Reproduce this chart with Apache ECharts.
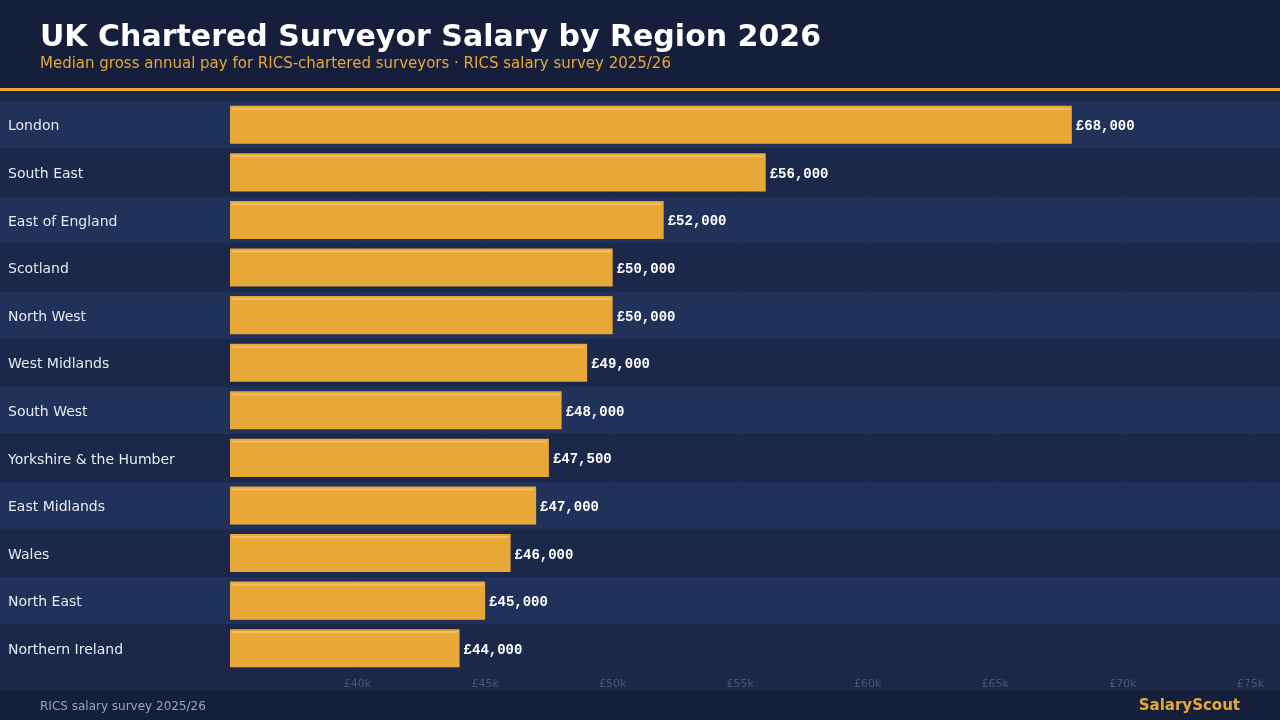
<!DOCTYPE html>
<html>
<head>
<meta charset="utf-8">
<script src="https://cdn.jsdelivr.net/npm/echarts@6/dist/echarts.min.js"></script>
<style>
html,body{margin:0;padding:0;background:#1c2848;}
#chart{width:1280px;height:720px;}
</style>
</head>
<body>
<div id="chart"></div>
<script>
var categories = ['London','South East','East of England','Scotland','North West','West Midlands','South West','Yorkshire & the Humber','East Midlands','Wales','North East','Northern Ireland'];
var salaries = [68000,56000,52000,50000,50000,49000,48000,47500,47000,46000,45000,44000];
var axisMin = 35000;
var axisMax = 76160;
var axisStep = 5000;

var GOLD = '#e8a838';
var chart = echarts.init(document.getElementById('chart'));

var bandData = categories.map(function(c, i){ return [axisMin, i]; });
var hiData = salaries.map(function(v, i){ return [v, i]; });

chart.setOption({
  backgroundColor: '#1c2848',
  animation: false,
  title: [{
    text: 'UK Chartered Surveyor Salary by Region 2026',
    left: 40, top: 23, padding: 0,
    textStyle: {color: '#ffffff', fontFamily: 'DejaVu Sans', fontWeight: 'bold', fontSize: 30}
  },{
    text: 'Median gross annual pay for RICS-chartered surveyors · RICS salary survey 2025/26',
    left: 40, top: 57, padding: 0,
    textStyle: {color: GOLD, fontFamily: 'DejaVu Sans', fontWeight: 'normal', fontSize: 15}
  }],
  graphic: [
    {type: 'rect', left: 0, top: 0, z: -10, shape: {width: 1280, height: 88}, style: {fill: '#151f3c'}},
    {type: 'rect', left: 0, top: 88, z: -10, shape: {width: 1280, height: 3}, style: {fill: GOLD}},
    {type: 'rect', left: 0, top: 690, z: -10, shape: {width: 1280, height: 30}, style: {fill: '#151f3a'}},
    {type: 'text', left: 40, top: 701, z: 10, style: {text: 'RICS salary survey 2025/26', fill: '#9aa4b8', font: '12px "DejaVu Sans"'}},
    {type: 'text', right: 40, top: 699, z: 10, style: {text: 'SalaryScout', fill: GOLD, font: 'bold 15px "DejaVu Sans"'}}
  ],
  grid: {left: 230, right: 0, top: 101, bottom: 48, containLabel: false},
  xAxis: {
    type: 'value', min: axisMin, max: axisMax, interval: axisStep, z: 0,
    axisLine: {show: false}, axisTick: {show: false},
    splitLine: {show: true, lineStyle: {color: 'rgba(255,255,255,0.10)', type: 'dotted', width: 1}},
    axisLabel: {
      showMinLabel: false, showMaxLabel: false, margin: 7,
      color: '#4a5775', fontFamily: 'DejaVu Sans', fontSize: 11,
      formatter: function(v){ return (v % axisStep === 0 && v !== axisMin) ? '£' + (v/1000) + 'k' : ''; }
    }
  },
  yAxis: {
    type: 'category', data: categories, inverse: true, z: 10,
    axisLine: {show: false}, axisTick: {show: false}, splitLine: {show: false},
    axisLabel: {show: false}
  },
  series: [
    {
      type: 'custom', z: 1, silent: true, clip: false,
      encode: {x: 0, y: 1},
      data: bandData,
      renderItem: function(params, api){
        var idx = api.value(1);
        var c = api.coord([api.value(0), idx]);
        var h = api.size([0, 1])[1];
        return {
          type: 'group',
          children: [{
            type: 'rect',
            shape: {x: 0, y: c[1] - h/2 + 0.5, width: api.getWidth(), height: h - 1},
            style: {fill: (idx % 2 === 0) ? '#21325a' : '#1c2849'}
          },{
            type: 'text',
            x: 8, y: c[1] + 2,
            style: {
              text: categories[idx], fill: '#e4e9f2',
              font: '14px "DejaVu Sans"', verticalAlign: 'middle', align: 'left'
            }
          }]
        };
      }
    },
    {
      type: 'bar', z: 2, data: salaries, barWidth: '80%',
      itemStyle: {color: GOLD},
      label: {
        show: true, position: 'right', distance: 4, offset: [0, 2],
        color: '#ffffff', fontFamily: '"Liberation Mono", monospace', fontWeight: 'bold', fontSize: 14,
        formatter: function(p){ return '£' + p.value.toLocaleString('en-GB'); }
      }
    },
    {
      type: 'custom', z: 3, silent: true,
      encode: {x: 0, y: 1},
      data: hiData,
      renderItem: function(params, api){
        var idx = api.value(1);
        var s = api.coord([axisMin, idx]);
        var e = api.coord([api.value(0), idx]);
        var bh = api.size([0, 1])[1] * 0.8;
        return {
          type: 'rect',
          shape: {x: s[0] + 2, y: s[1] - bh/2 + 2, width: e[0] - s[0] - 4, height: 2},
          style: {fill: '#f2bd63'}
        };
      }
    }
  ]
});
</script>
</body>
</html>
